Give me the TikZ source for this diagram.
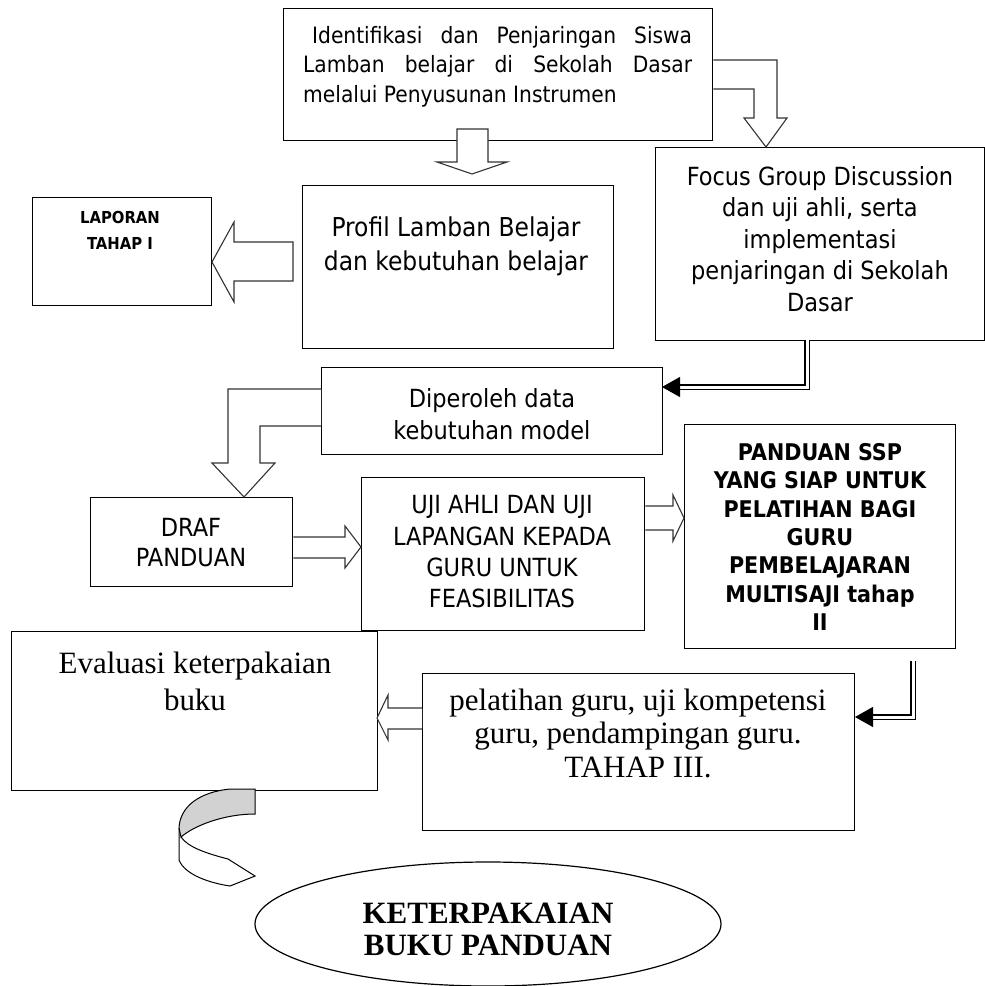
\documentclass[tikz,border=0pt]{standalone}
\usepackage{fontspec}
\setmainfont{Liberation Serif}
\newfontfamily\tahfont{DejaVu Sans Condensed}
\usetikzlibrary{shapes.geometric,arrows.meta,calc}
\begin{document}
\begin{tikzpicture}[x=1pt,y=-1pt,
  box/.style={draw=black, line width=1.3pt, inner sep=0pt, anchor=north west},
  tx/.style={inner sep=0pt, align=center, text=black},
  sanstx/.style={tx, font=\tahfont\fontsize{25}{31.5}\selectfont},
  barrow/.style={draw=black!80, line width=1.1pt, fill=white, line join=miter},
  dblarrow/.style={draw=black, line width=1.1pt, double=white, double distance=3pt, -{Triangle[length=18pt,width=20pt]}},
  ribbon/.style={draw=black, line width=1pt}]
\useasboundingbox (0,0) rectangle (985,986);

% boxes
\node[box, minimum width=429pt, minimum height=132pt] (T) at (283,8) {};
\node[box, minimum width=311pt, minimum height=163pt] (P) at (302,185) {};
\node[box, minimum width=179pt, minimum height=108pt] (L) at (32,197) {};
\node[box, minimum width=329pt, minimum height=193pt] (F) at (655,147) {};
\node[box, minimum width=341pt, minimum height=87pt] (D) at (321,367) {};
\node[box, minimum width=202pt, minimum height=89pt] (R) at (90,497) {};
\node[box, minimum width=283pt, minimum height=153pt] (U) at (361,477) {};
\node[box, minimum width=271pt, minimum height=224pt] (G) at (684,424) {};
\node[box, minimum width=366pt, minimum height=159pt] (E) at (11,631) {};
\node[box, minimum width=432pt, minimum height=157pt] (Q) at (422,673) {};
\node[draw, ellipse, line width=1.2pt, minimum width=466pt, minimum height=124pt, inner sep=0pt] (K) at (488,924) {};

% texts
\node[tx, anchor=north west, text width=389pt, align=justify, font=\tahfont\fontsize{22.5}{29.5}\selectfont] (Tt) at (303,26)
  {\hspace*{9pt}Identifikasi dan Penjaringan Siswa\linebreak Lamban belajar di Sekolah Dasar\linebreak melalui Penyusunan Instrumen};
\node[tx, font=\tahfont\fontsize{26}{34}\selectfont] (Pt) at (456,246) {Profil Lamban Belajar\\dan kebutuhan belajar};
\node[tx, font=\tahfont\bfseries\fontsize{16.5}{26}\selectfont] (Lt) at (120,230) {LAPORAN\\TAHAP I};
\node[sanstx] (Ft) at (820,239) {Focus Group Discussion\\dan uji ahli, serta\\implementasi\\penjaringan di Sekolah\\Dasar};
\node[tx, font=\tahfont\fontsize{25}{32}\selectfont] (Dt) at (492,414) {Diperoleh data\\kebutuhan model};
\node[tx, font=\tahfont\fontsize{25}{30}\selectfont] (Rt) at (191,543) {DRAF\\PANDUAN};
\node[tx, font=\tahfont\fontsize{25}{31.3}\selectfont] (Ut) at (502,552) {UJI AHLI DAN UJI\\LAPANGAN KEPADA\\GURU UNTUK\\FEASIBILITAS};
\node[tx, font=\tahfont\bfseries\fontsize{23}{28.4}\selectfont] (Gt) at (820,537) {PANDUAN SSP\\YANG SIAP UNTUK\\PELATIHAN BAGI\\GURU\\PEMBELAJARAN\\MULTISAJI tahap\\II};
\node[tx, font=\fontsize{31}{33.5}\selectfont] (Qt) at (638,733) {pelatihan guru, uji kompetensi\\guru, pendampingan guru.\\TAHAP III.};
\node[tx, font=\fontsize{31}{37}\selectfont] (Et) at (195,681) {Evaluasi keterpakaian\\buku};
\node[tx, font=\bfseries\fontsize{31}{32}\selectfont] (Kt) at (488,929) {KETERPAKAIAN\\BUKU PANDUAN};

% block arrows
\draw[barrow] (457,129) -- (488,129) -- (488,162) -- (507,162) -- (472,174) -- (437,162) -- (457,162) -- cycle;
\draw[barrow] (293,242) -- (234,242) -- (234,222) -- (212,262) -- (234,302) -- (234,281) -- (293,281) -- cycle;
\draw[barrow] (T.east |- 0,60) -- (777,60) -- (777,118) -- (787,118) -- (766,147) -- (744,118) -- (754,118) -- (754,89) -- (T.east |- 0,89);
\draw[barrow] (D.west |- 0,389) -- (228,389) -- (228,463) -- (212,463) -- (244,497) -- (275,463) -- (260,463) -- (260,426) -- (D.west |- 0,426);
\draw[barrow] (R.east |- 0,537) -- (345,537) -- (345,526) -- (361,547) -- (345,568) -- (345,558) -- (R.east |- 0,558);
\draw[barrow] (U.east |- 0,506) -- (673,506) -- (673,495) -- (684,518) -- (673,541) -- (673,530) -- (U.east |- 0,530);
\draw[barrow] (Q.west |- 0,708) -- (388,708) -- (388,695) -- (377,718) -- (388,740) -- (388,729) -- (Q.west |- 0,729);

% double arrows
\coordinate (fa) at (807,340);
\coordinate (da) at (662,387);
\draw[dblarrow] (fa) |- (da);
\coordinate (ga) at (913,661);
\coordinate (qa) at (855,717);
\draw[dblarrow] (ga) |- (qa);

% curved ribbon arrow
\filldraw[ribbon, fill=gray!35] (230,789) .. controls (200,792) and (180,806) .. (179,828) -- (181,837)
   .. controls (195,825) and (225,814) .. (255,814) -- (255,789) -- cycle;
\draw[ribbon] (179,828) -- (179,860) .. controls (185,875) and (210,883) .. (230,886) -- (255,876) -- (228,859)
   .. controls (205,853) and (188,847) .. (181,837);
\end{tikzpicture}
\end{document}
